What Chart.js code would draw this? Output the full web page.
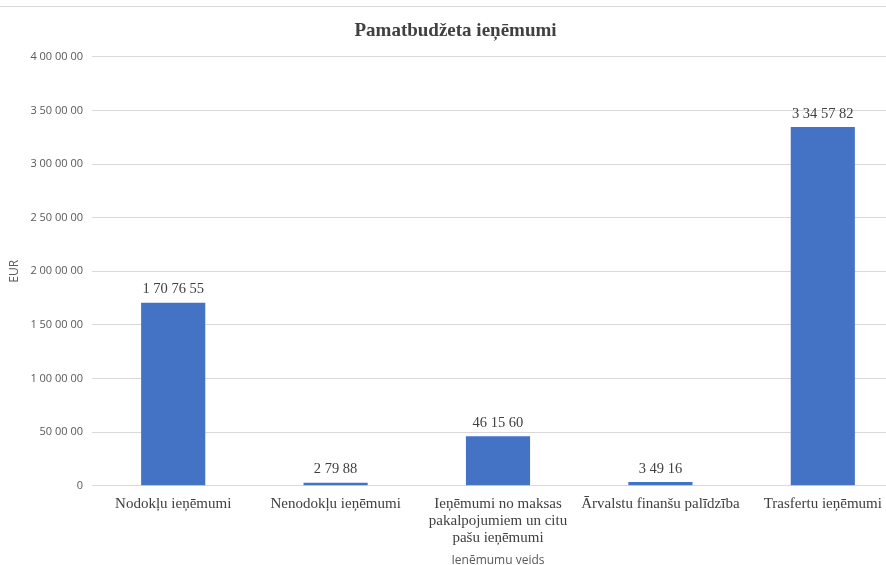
<!DOCTYPE html>
<html><head><meta charset="utf-8">
<script src="https://cdn.jsdelivr.net/npm/chart.js@4/dist/chart.umd.min.js"></script>
<style>
html,body{margin:0;padding:0;background:#fff;overflow:hidden;}
#wrap{position:relative;width:886px;height:565px;overflow:hidden;}
#topline{position:absolute;left:0;top:6px;width:886px;height:0;border-top:1px solid #d9d9d9;}
canvas{position:absolute;left:0;top:0;}
</style></head>
<body><div id="wrap"><div id="topline"></div><canvas id="c" width="904" height="565"></canvas></div>
<script>
const categories = [
  "Nodokļu ieņēmumi",
  "Nenodokļu ieņēmumi",
  ["Ieņēmumi no maksas", "pakalpojumiem un citu", "pašu ieņēmumi"],
  "Ārvalstu finanšu palīdzība",
  "Trasfertu ieņēmumi"
];
const values = [1707655, 27988, 461560, 34916, 3345782];
const yMin = 0, yMax = 4000000, yStep = 500000;
const titleText = "Pamatbudžeta ieņēmumi";
const xTitle = "Ienēmumu veids";
const yTitle = "EUR";

function fmt(v){
  let s = String(Math.round(v));
  if (s === "0") return "0";
  const parts = [];
  while (s.length > 2){ parts.unshift(s.slice(-2)); s = s.slice(0,-2); }
  if (s.length) parts.unshift(s);
  return parts.join(" ");
}

const labelPlugin = {
  id: 'vals',
  afterDatasetsDraw(chart){
    const ctx = chart.ctx;
    const meta = chart.getDatasetMeta(0);
    ctx.save();
    ctx.font = '14.5px "Liberation Serif", "Times New Roman", serif';
    ctx.fillStyle = '#404040';
    ctx.textAlign = 'center';
    ctx.textBaseline = 'bottom';
    meta.data.forEach((bar, i) => {
      ctx.fillText(fmt(values[i]), bar.x, bar.y - 6);
    });
    ctx.restore();
  }
};

new Chart(document.getElementById('c'), {
  type: 'bar',
  data: {
    labels: categories,
    datasets: [{
      data: values,
      backgroundColor: '#4472c4',
      borderWidth: 0,
      categoryPercentage: 1.0,
      barPercentage: 0.395
    }]
  },
  options: {
    responsive: false,
    animation: false,
    devicePixelRatio: 1,
    layout: { padding: { left: 7, right: 0, top: 15, bottom: 0 } },
    plugins: {
      legend: { display: false },
      tooltip: { enabled: false },
      title: {
        display: true, text: titleText, color: '#404040',
        font: { family: '"Liberation Serif", "Times New Roman", serif', size: 19, weight: 'bold' },
        padding: { top: 5, bottom: 14 }
      }
    },
    scales: {
      x: {
        grid: { display: false, drawTicks: false },
        border: { display: false },
        ticks: {
          color: '#404040', padding: 10, maxRotation: 0, autoSkip: false,
          font: { family: '"Liberation Serif", "Times New Roman", serif', size: 15, lineHeight: 1.13 }
        },
        title: {
          display: true, text: xTitle, color: '#595959', padding: { top: 0, bottom: 0 },
          font: { family: '"Open Sans", "DejaVu Sans", sans-serif', size: 12, lineHeight: 0.7 }
        }
      },
      y: {
        min: yMin, max: yMax,
        grid: { color: '#d9d9d9', drawTicks: false, lineWidth: 1 },
        border: { display: false },
        ticks: {
          stepSize: yStep, color: '#595959', padding: 9,
          font: { family: '"Open Sans", "DejaVu Sans", sans-serif', size: 11 },
          callback: v => fmt(v)
        },
        title: {
          display: true, text: yTitle, color: '#595959', padding: { top: 0, bottom: 0 },
          font: { family: '"Open Sans", "DejaVu Sans", sans-serif', size: 12 }
        }
      }
    }
  },
  plugins: [labelPlugin]
});
</script></body></html>
